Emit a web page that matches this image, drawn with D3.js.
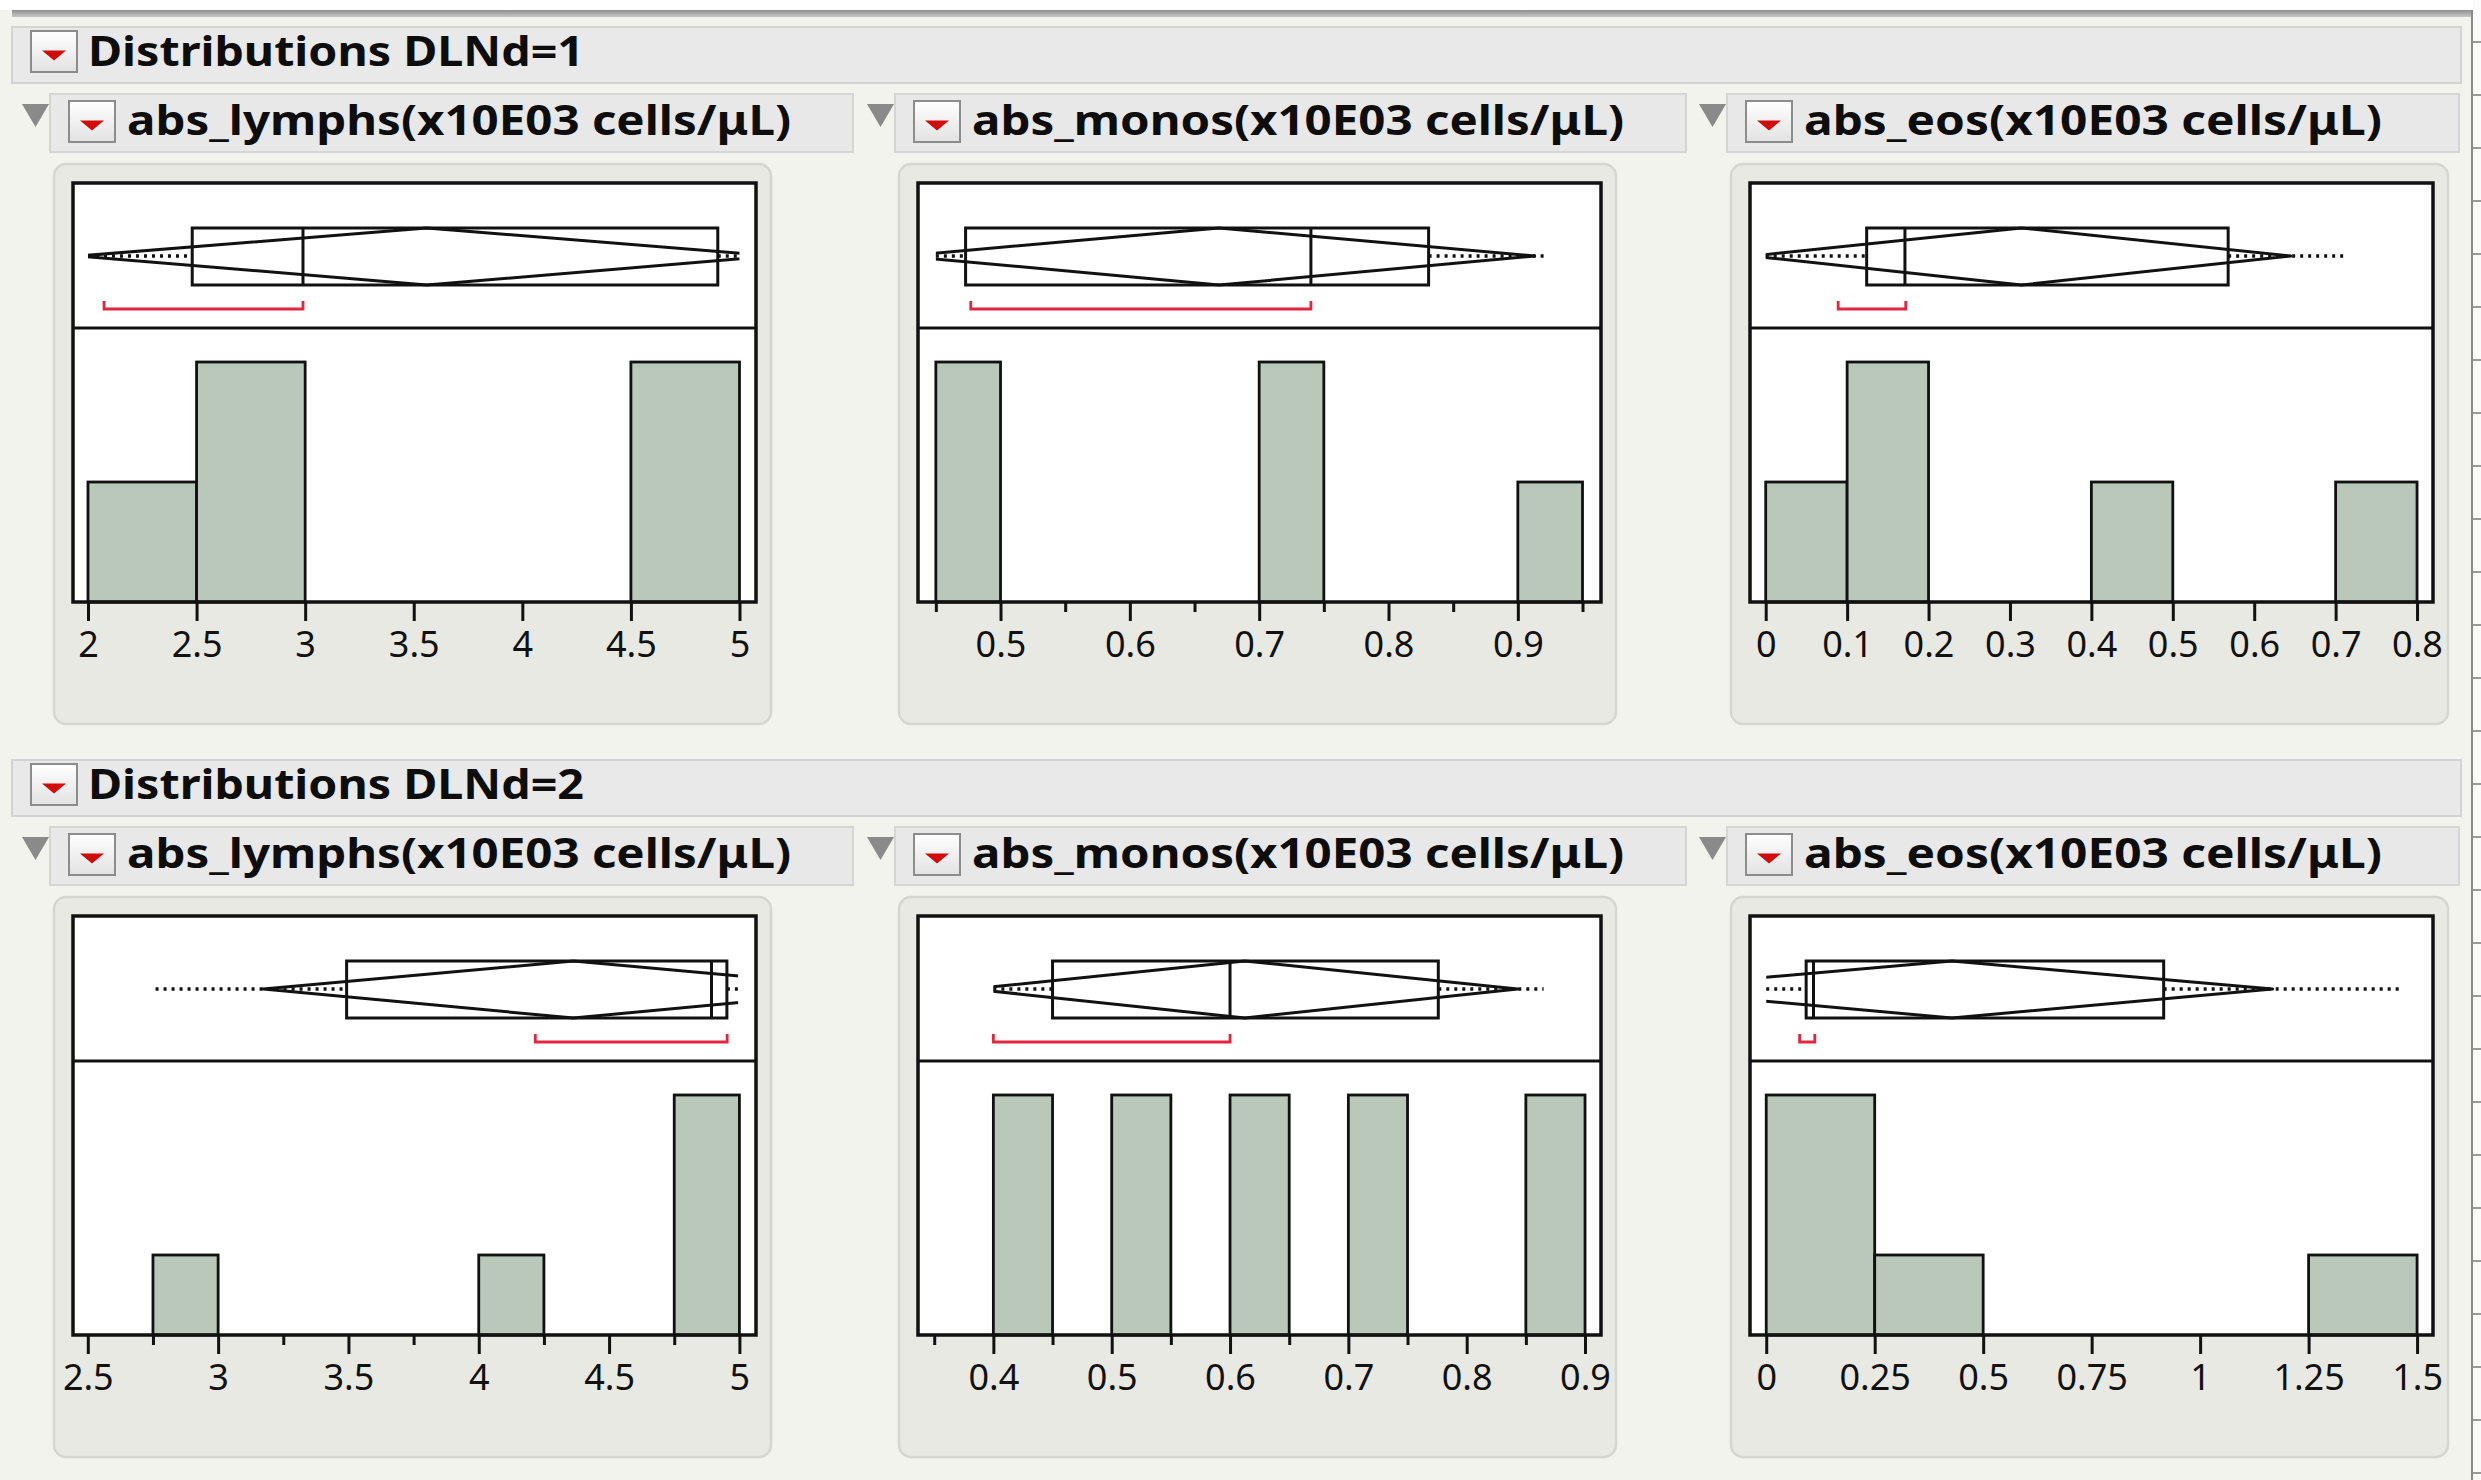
<!DOCTYPE html>
<html>
<head>
<meta charset="utf-8">
<script src="https://cdn.jsdelivr.net/npm/d3@7"></script>
<style>
  body { margin: 0; background: #f3f3ee; }
  svg { display: block; }
</style>
</head>
<body>
<svg id="chart"></svg>
<script>
const groupTitles = ['Distributions DLNd=1', 'Distributions DLNd=2'];
const variableTitles = ['abs_lymphs(x10E03 cells/μL)', 'abs_monos(x10E03 cells/μL)', 'abs_eos(x10E03 cells/μL)'];

// histogram bins: [from, to, count]
const lymphsBins1 = [[2, 2.5, 1], [2.5, 3, 2], [4.5, 5, 2]];
const monosBins1 = [[0.45, 0.5, 2], [0.7, 0.75, 2], [0.9, 0.95, 1]];
const eosBins1 = [[0, 0.1, 1], [0.1, 0.2, 2], [0.4, 0.5, 1], [0.7, 0.8, 1]];
const lymphsBins2 = [[2.75, 3, 1], [4, 4.25, 1], [4.75, 5, 3]];
const monosBins2 = [[0.4, 0.45, 1], [0.5, 0.55, 1], [0.6, 0.65, 1], [0.7, 0.75, 1], [0.85, 0.9, 1]];
const eosBins2 = [[0, 0.25, 3], [0.25, 0.5, 1], [1.25, 1.5, 1]];

// quantiles: [min, q1, median, q3, max]
const lymphsQuant1 = [2.0, 2.48, 2.99, 4.9, 5.0];
const monosQuant1 = [0.45, 0.473, 0.74, 0.831, 0.92];
const eosQuant1 = [0.0, 0.124, 0.171, 0.568, 0.713];
const lymphsQuant2 = [2.76, 3.493, 4.893, 4.952, 4.995];
const monosQuant2 = [0.4, 0.45, 0.6, 0.776, 0.865];
const eosQuant2 = [0.0, 0.092, 0.109, 0.916, 1.468];

// mean diamond: [lower 95%, mean, upper 95%]
const lymphsMean1 = [1.96, 3.56, 5.16];
const monosMean1 = [0.425, 0.669, 0.913];
const eosMean1 = [-0.017, 0.314, 0.645];
const lymphsMean2 = [3.173, 4.363, 5.553];
const monosMean2 = [0.382, 0.6125, 0.843];
const eosMean2 = [-0.31, 0.428, 1.167];

// shortest half: [from, to]
const lymphsShort1 = [2.074, 2.99];
const monosShort1 = [0.477, 0.74];
const eosShort1 = [0.089, 0.172];
const lymphsShort2 = [4.217, 4.953];
const monosShort2 = [0.4, 0.6];
const eosShort2 = [0.077, 0.112];

// axes: visible range, labelled ticks, minor ticks
const lymphsAxis1 = [1.931, 5.076];
const monosAxis1 = [0.4362, 0.9643];
const eosAxis1 = [-0.0193, 0.8196];
const lymphsAxis2 = [2.4432, 5.0637];
const monosAxis2 = [0.3363, 0.9135];
const eosAxis2 = [-0.0374, 1.5367];
const lymphsTicks1 = [2, 2.5, 3, 3.5, 4, 4.5, 5];
const monosTicks1 = [0.5, 0.6, 0.7, 0.8, 0.9];
const eosTicks1 = [0, 0.1, 0.2, 0.3, 0.4, 0.5, 0.6, 0.7, 0.8];
const lymphsTicks2 = [2.5, 3, 3.5, 4, 4.5, 5];
const monosTicks2 = [0.4, 0.5, 0.6, 0.7, 0.8, 0.9];
const eosTicks2 = [0, 0.25, 0.5, 0.75, 1, 1.25, 1.5];
const monosMinor1 = [0.45, 0.55, 0.65, 0.75, 0.85, 0.95];
const lymphsMinor2 = [2.75, 3.25, 3.75, 4.25, 4.75];
const monosMinor2 = [0.35, 0.45, 0.55, 0.65, 0.75, 0.85];

const panels = [
  [
    { bins: lymphsBins1, quant: lymphsQuant1, mean: lymphsMean1, short: lymphsShort1, axis: lymphsAxis1, ticks: lymphsTicks1, minor: [] },
    { bins: monosBins1, quant: monosQuant1, mean: monosMean1, short: monosShort1, axis: monosAxis1, ticks: monosTicks1, minor: monosMinor1 },
    { bins: eosBins1, quant: eosQuant1, mean: eosMean1, short: eosShort1, axis: eosAxis1, ticks: eosTicks1, minor: [] },
  ],
  [
    { bins: lymphsBins2, quant: lymphsQuant2, mean: lymphsMean2, short: lymphsShort2, axis: lymphsAxis2, ticks: lymphsTicks2, minor: lymphsMinor2 },
    { bins: monosBins2, quant: monosQuant2, mean: monosMean2, short: monosShort2, axis: monosAxis2, ticks: monosTicks2, minor: monosMinor2 },
    { bins: eosBins2, quant: eosQuant2, mean: eosMean2, short: eosShort2, axis: eosAxis2, ticks: eosTicks2, minor: [] },
  ],
];

const W = 2481;
const H = 1480;
const rowStep = 733;
const frameLeft = [73, 918, 1750];
const subRight = [853, 1686, 2459];
const frameW = 683;
const frameH = 419;
const frameTop0 = 183;
const histH = 240;
const FONT = '"Noto Sans", "DejaVu Sans", sans-serif';

const svg = d3.select('#chart').attr('width', W).attr('height', H);
const defs = svg.append('defs');

const btnGrad = defs.append('linearGradient').attr('id', 'btn').attr('x1', 0).attr('y1', 0).attr('x2', 0).attr('y2', 1);
btnGrad.append('stop').attr('offset', 0).attr('stop-color', '#ffffff');
btnGrad.append('stop').attr('offset', 1).attr('stop-color', '#e2e2e2');

const topGrad = defs.append('linearGradient').attr('id', 'topline').attr('x1', 0).attr('y1', 0).attr('x2', 0).attr('y2', 1);
topGrad.append('stop').attr('offset', 0).attr('stop-color', '#8e8e8e');
topGrad.append('stop').attr('offset', 1).attr('stop-color', '#c8c8c8');

// page background
svg.append('rect').attr('width', W).attr('height', H).attr('fill', '#f3f3ee');
svg.append('rect').attr('width', W).attr('height', 10).attr('fill', '#ffffff');
svg.append('rect').attr('x', 2473).attr('width', 8).attr('height', H).attr('fill', '#fbfbfb');
svg.append('rect').attr('x', 12).attr('y', 10).attr('width', 2460).attr('height', 7).attr('fill', 'url(#topline)');
svg.append('line').attr('x1', 2472).attr('x2', 2472).attr('y1', 10).attr('y2', H)
  .attr('stroke', '#8a8a8a').attr('stroke-width', 2);
svg.append('g').selectAll('line').data(d3.range(42, H, 53)).join('line')
  .attr('x1', 2473).attr('x2', 2481).attr('y1', (d) => d).attr('y2', (d) => d)
  .attr('stroke', '#9a9a9a').attr('stroke-width', 2);

function redButton(g, x, y, w, h) {
  g.append('rect').attr('x', x).attr('y', y).attr('width', w).attr('height', h)
    .attr('fill', 'url(#btn)').attr('stroke', '#8c8c8c').attr('stroke-width', 2);
  const cx = x + w / 2;
  const ty = y + h / 2 - 1;
  g.append('path')
    .attr('d', `M${cx - 12},${ty} L${cx + 12},${ty} L${cx},${ty + 10} Z`)
    .attr('fill', '#d20a0a');
}

function fitText(sel, width) {
  const len = sel.node().getComputedTextLength();
  if (Math.abs(len - width) > 2) {
    sel.attr('textLength', width).attr('lengthAdjust', 'spacingAndGlyphs');
  }
}

let clipId = 0;

function drawPanel(g, spec, fx, fy) {
  const x = d3.scaleLinear().domain(spec.axis).range([fx, fx + frameW]);
  const base = fy + frameH;
  const maxCount = d3.max(spec.bins, (b) => b[2]);
  const y = d3.scaleLinear().domain([0, maxCount]).range([base, base - histH]);

  // grey rounded panel
  g.append('rect')
    .attr('x', fx - 19).attr('y', fy - 19).attr('width', 717).attr('height', 560)
    .attr('rx', 12)
    .attr('fill', '#e9e9e3').attr('stroke', '#d6d6d0').attr('stroke-width', 2.5);

  g.append('rect')
    .attr('x', fx).attr('y', fy).attr('width', frameW).attr('height', frameH)
    .attr('fill', '#ffffff');

  // histogram
  g.append('g').selectAll('rect').data(spec.bins).join('rect')
    .attr('x', (b) => x(b[0]))
    .attr('y', (b) => y(b[2]))
    .attr('width', (b) => x(b[1]) - x(b[0]))
    .attr('height', (b) => base - y(b[2]))
    .attr('fill', '#bac8ba')
    .attr('stroke', '#111')
    .attr('stroke-width', 2.8);

  // outlier box plot area
  const cy = fy + 73;
  const bTop = fy + 45;
  const bBot = fy + 102;
  const [qMin, q1, med, q3, qMax] = spec.quant;
  const [ciLo, mean, ciHi] = spec.mean;

  const id = `clip${clipId++}`;
  defs.append('clipPath').attr('id', id).append('rect')
    .attr('x', x(qMin)).attr('y', bTop - 5).attr('width', x(qMax) - x(qMin)).attr('height', bBot - bTop + 10);

  const bp = g.append('g').attr('fill', 'none').attr('stroke', '#111');

  bp.append('g').selectAll('line').data([[qMin, q1], [q3, qMax]]).join('line')
    .attr('x1', (d) => x(d[0])).attr('x2', (d) => x(d[1]))
    .attr('y1', cy).attr('y2', cy)
    .attr('stroke-width', 3.5).attr('stroke-dasharray', '3,5');

  bp.append('rect')
    .attr('x', x(q1)).attr('y', bTop).attr('width', x(q3) - x(q1)).attr('height', bBot - bTop)
    .attr('stroke-width', 3);
  bp.append('line')
    .attr('x1', x(med)).attr('x2', x(med)).attr('y1', bTop).attr('y2', bBot)
    .attr('stroke-width', 3);

  bp.append('path')
    .attr('clip-path', `url(#${id})`)
    .attr('d', `M${x(ciLo)},${cy} L${x(mean)},${bTop} L${x(ciHi)},${cy} L${x(mean)},${bBot} Z`)
    .attr('stroke-width', 3)
    .attr('stroke-linejoin', 'round');

  // shortest half bracket
  g.append('path')
    .attr('d', `M${x(spec.short[0])},${fy + 118} V${fy + 126} H${x(spec.short[1])} V${fy + 118}`)
    .attr('fill', 'none').attr('stroke', '#e3263f').attr('stroke-width', 2.8);

  // divider and frame
  g.append('line')
    .attr('x1', fx).attr('x2', fx + frameW).attr('y1', fy + 145).attr('y2', fy + 145)
    .attr('stroke', '#111').attr('stroke-width', 3);
  g.append('rect')
    .attr('x', fx).attr('y', fy).attr('width', frameW).attr('height', frameH)
    .attr('fill', 'none').attr('stroke', '#111').attr('stroke-width', 3.5);

  // axis
  const ax = g.append('g').attr('transform', `translate(0,${base})`)
    .call(d3.axisBottom(x).tickValues(spec.ticks).tickSize(19).tickPadding(10).tickFormat(d3.format('~g')));
  ax.select('.domain').remove();
  ax.selectAll('.tick line').attr('stroke', '#111').attr('stroke-width', 3);
  ax.selectAll('.tick text')
    .attr('fill', '#111')
    .style('font-family', FONT)
    .style('font-size', '36px');

  if (spec.minor.length) {
    const mx = g.append('g').attr('transform', `translate(0,${base})`)
      .call(d3.axisBottom(x).tickValues(spec.minor).tickSize(10).tickFormat(''));
    mx.select('.domain').remove();
    mx.selectAll('.tick line').attr('stroke', '#111').attr('stroke-width', 3);
  }
}

groupTitles.forEach((title, r) => {
  const oy = r * rowStep;
  const g = svg.append('g');

  g.append('rect')
    .attr('x', 12).attr('y', 27 + oy).attr('width', 2449).attr('height', 56)
    .attr('fill', '#e9e9e9').attr('stroke', '#d3d3d3').attr('stroke-width', 2);
  redButton(g, 31, 31 + oy, 46, 41);
  const t = g.append('text')
    .attr('x', 88).attr('y', 66 + oy)
    .attr('fill', '#0d0d0d')
    .style('font-family', FONT).style('font-weight', 'bold').style('font-size', '42px')
    .text(title);
  fitText(t, 496);

  variableTitles.forEach((vt, c) => {
    const fx = frameLeft[c];
    g.append('path')
      .attr('d', `M${fx - 51},${104 + oy} L${fx - 24},${104 + oy} L${fx - 37.5},${127 + oy} Z`)
      .attr('fill', '#8a8a8a');
    g.append('rect')
      .attr('x', fx - 23).attr('y', 94 + oy).attr('width', subRight[c] - fx + 23).attr('height', 58)
      .attr('fill', '#e8e8e8').attr('stroke', '#d5d5d5').attr('stroke-width', 2);
    redButton(g, fx - 4, 101 + oy, 46, 41);
    const st = g.append('text')
      .attr('x', fx + 54).attr('y', 135 + oy)
      .attr('fill', '#0d0d0d')
      .style('font-family', FONT).style('font-weight', 'bold').style('font-size', '42px')
      .text(vt);
    fitText(st, [664, 652, 578][c]);

    drawPanel(g, panels[r][c], fx, frameTop0 + oy);
  });
});
</script>
</body>
</html>
